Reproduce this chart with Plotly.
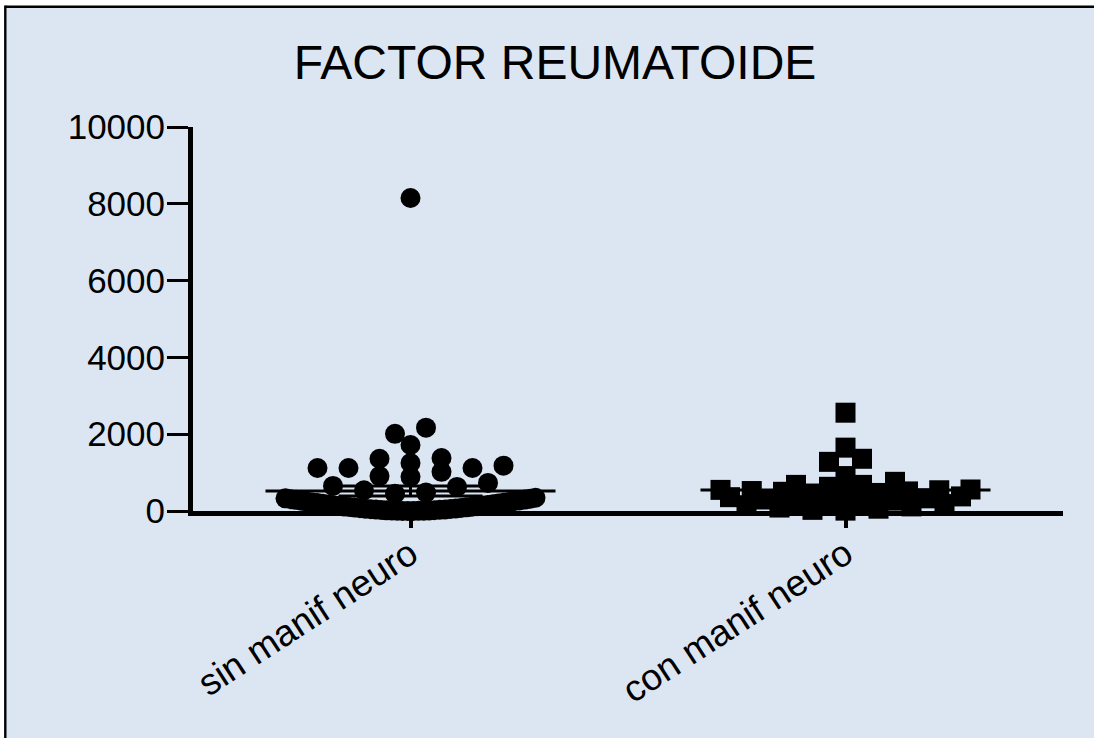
import numpy as np
import plotly.graph_objects as go

# ---------------- data ----------------
categories = ["sin manif neuro", "con manif neuro"]
sin_manif_values = [8150, 2170, 2010, 1720, 1380, 1360, 1250, 1180, 1120, 1120, 1120,
                    1020, 910, 890, 731, 653, 627, 540, 480, 450,
                    345, 330, 318, 305, 298, 290, 276, 268, 255, 247, 236, 224, 215,
                    206, 198, 187, 176, 168, 159, 150, 141, 133, 124, 118, 109, 101,
                    96, 88, 80, 74, 67, 60, 54, 48, 42, 37, 31, 27, 22, 18, 15, 12,
                    9, 7, 5, 3, 2, 0]
con_manif_values = [2560, 1650, 1360, 1280, 910, 760, 680, 680, 630,
                    560, 550, 540, 520, 510, 500, 470, 455, 430,
                    380, 360, 330, 300, 270, 240, 220, 210,
                    180, 150, 120, 90, 60, 30, 10]
y_tick_values = [0, 2000, 4000, 6000, 8000, 10000]
chart_title = "FACTOR REUMATOIDE"

# ---------------- layout constants ----------------
W, H = 1094, 738
L, R, T, B = 193, 31, 127, 227
PW = W - L - R
PH = H - T - B
X_RANGE = [0.5, 2.5]
Y_RANGE = [0, 10000]
px_per_x = PW / (X_RANGE[1] - X_RANGE[0])
BG = "#DCE6F2"
FONT = "Liberation Sans, Arial, sans-serif"


def swarm_offsets(values, bin_units, spacing_px=31, max_half_px=125):
    """Prism-like column scatter: points in the same value band are spread
    horizontally, lowest values in the middle."""
    vals = np.asarray(values, float)
    offs = np.zeros(len(vals))
    bins = np.floor(vals / bin_units).astype(int)
    for b in np.unique(bins):
        idx = np.where(bins == b)[0]
        n = len(idx)
        step = spacing_px
        if n > 1 and (n - 1) * step / 2 > max_half_px:
            step = 2 * max_half_px / (n - 1)
        slots = (np.arange(n) - (n - 1) / 2) * step
        slot_order = sorted(range(n), key=lambda k: (abs(slots[k]), slots[k]))
        val_order = idx[np.argsort(vals[idx], kind="stable")]
        for s, i in zip(slot_order, val_order):
            offs[i] = slots[s]
    return offs / px_per_x


def mean_sem(values):
    v = np.asarray(values, float)
    return v.mean(), v.std(ddof=1) / np.sqrt(len(v))


fig = go.Figure()

groups = [(sin_manif_values, "circle", 20, 400, 31),
          (con_manif_values, "square", 20, 200, 33)]
for gi, (vals, sym, size, bin_units, spacing) in enumerate(groups):
    xc = gi + 1
    offs = swarm_offsets(vals, bin_units, spacing)
    fig.add_trace(go.Scatter(
        x=xc + offs, y=vals, mode="markers",
        marker=dict(symbol=sym, size=size, color="black", line=dict(width=0)),
        cliponaxis=False, showlegend=False, hoverinfo="y"))
    m, s = mean_sem(vals)
    half_mean = 145 / px_per_x
    half_sem = 72 / px_per_x
    lx = [xc - half_mean, xc + half_mean, None,
          xc - half_sem, xc + half_sem, None,
          xc - half_sem, xc + half_sem, None,
          xc, xc]
    ly = [m, m, None, m + s, m + s, None, m - s, m - s, None, m - s, m + s]
    fig.add_trace(go.Scatter(
        x=lx, y=ly, mode="lines", line=dict(color="black", width=3),
        cliponaxis=False, showlegend=False, hoverinfo="skip"))


def xp(px):
    return (px - L) / PW


def yp(py):
    return (H - B - py) / PH


# white strips outside the panel, black top and left border
fig.add_shape(type="rect", xref="paper", yref="paper",
              x0=xp(0), x1=xp(5.3), y0=yp(H), y1=yp(0),
              line=dict(width=0), fillcolor="white", layer="below")
fig.add_shape(type="rect", xref="paper", yref="paper",
              x0=xp(0), x1=xp(W), y0=yp(6.7), y1=yp(0),
              line=dict(width=0), fillcolor="white", layer="below")
fig.add_shape(type="line", xref="paper", yref="paper",
              x0=xp(5.3), x1=xp(W), y0=yp(6.7), y1=yp(6.7),
              line=dict(color="black", width=2.4), layer="below")
fig.add_shape(type="line", xref="paper", yref="paper",
              x0=xp(5.3), x1=xp(5.3), y0=yp(H), y1=yp(5.5),
              line=dict(color="black", width=2.4), layer="below")

fig.update_layout(
    width=W, height=H,
    margin=dict(l=L, r=R, t=T, b=B, pad=0),
    paper_bgcolor=BG,
    plot_bgcolor=BG,
    font=dict(family=FONT, color="black"),
    title=dict(text=chart_title, x=555 / W, xref="container", xanchor="center",
               y=1 - 62 / H, yref="container", yanchor="middle",
               font=dict(family=FONT, size=48, color="black")),
    xaxis=dict(range=X_RANGE, tickvals=[1, 2], ticktext=categories,
               ticks="outside", ticklen=12, tickwidth=4, tickcolor="black",
               showline=True, linewidth=5, linecolor="black",
               showgrid=False, zeroline=False, tickangle=-33,
               ticklabelstandoff=-10,
               tickfont=dict(family=FONT, size=37, color="black")),
    yaxis=dict(range=Y_RANGE, tickvals=y_tick_values,
               ticktext=[str(v) for v in y_tick_values],
               ticks="outside", ticklen=21, tickwidth=3, tickcolor="black",
               showline=True, linewidth=5, linecolor="black",
               showgrid=False, zeroline=False, ticklabelstandoff=-5,
               tickfont=dict(family=FONT, size=35, color="black")),
)

fig.write_html("out.html")
